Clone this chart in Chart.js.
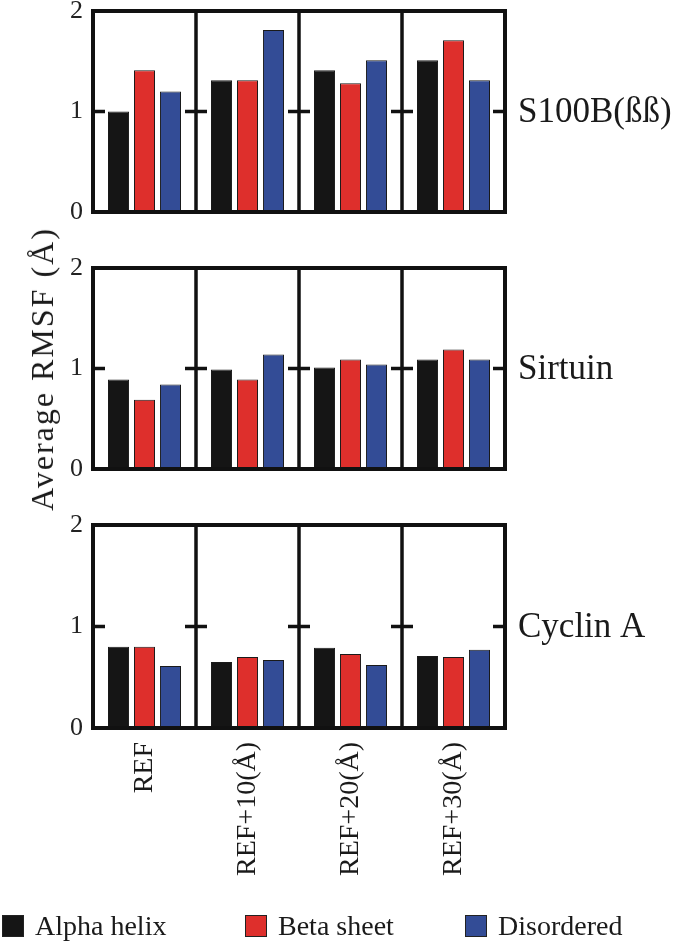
<!DOCTYPE html>
<html>
<head>
<meta charset="utf-8">
<script src="https://cdn.jsdelivr.net/npm/chart.js@4.4.1/dist/chart.umd.min.js"></script>
<style>
  html, body { margin:0; padding:0; background:#fff; }
  body { width:675px; height:943px; position:relative; overflow:hidden; font-family:"Liberation Serif","Times New Roman",serif; color:#1a1a1a; }
  canvas { position:absolute; left:0; }
  #ytitle { position:absolute; left:42px; top:369px; transform:translate(-50%,-50%) rotate(-90deg); white-space:nowrap; font-size:32px; line-height:1; letter-spacing:2px; }
  .lg { position:absolute; top:905px; height:42px; display:flex; align-items:center; font-size:28px; white-space:nowrap; }
  .lg span.sw { display:inline-block; width:20px; height:20px; border:1px solid #222; margin-right:11px; }
</style>
</head>
<body>
<canvas id="c0" width="675" height="240" style="top:0px"></canvas>
<canvas id="c1" width="675" height="240" style="top:257px"></canvas>
<canvas id="c2" width="675" height="392" style="top:514px"></canvas>
<div id="ytitle">Average RMSF (Å)</div>
<div id="legend"></div>
<script>
// ---- data ----
const categories = ["REF", "REF+10(Å)", "REF+20(Å)", "REF+30(Å)"];
const panelNames = ["S100B(ßß)", "Sirtuin", "Cyclin A"];
const seriesNames = ["Alpha helix", "Beta sheet", "Disordered"];
const seriesColors = ["#151515", "#de2f2c", "#334c96"];
const yTicks = [0, 1, 2];

// S100B(ßß)
const s100bAlpha = [1.00, 1.31, 1.41, 1.51];
const s100bBeta = [1.41, 1.31, 1.28, 1.71];
const s100bDisordered = [1.20, 1.81, 1.51, 1.31];
// Sirtuin
const sirtuinAlpha = [0.89, 0.99, 1.01, 1.09];
const sirtuinBeta = [0.69, 0.89, 1.09, 1.19];
const sirtuinDisordered = [0.84, 1.14, 1.04, 1.09];
// Cyclin A
const cyclinAlpha = [0.80, 0.65, 0.79, 0.71];
const cyclinBeta = [0.80, 0.70, 0.73, 0.70];
const cyclinDisordered = [0.61, 0.67, 0.62, 0.77];

const panelData = [
  [s100bAlpha, s100bBeta, s100bDisordered],
  [sirtuinAlpha, sirtuinBeta, sirtuinDisordered],
  [cyclinAlpha, cyclinBeta, cyclinDisordered]
];

// ---- frame / separators / inner ticks / right label ----
const framePlugin = {
  id: 'panelFrame',
  afterDatasetsDraw(chart, args, opts) {
    const { ctx, chartArea: { left, right, top, bottom }, scales: { x, y } } = chart;
    ctx.save();
    ctx.strokeStyle = '#111';
    ctx.lineCap = 'butt';
    const seps = [];
    for (let i = 1; i < categories.length; i++) {
      seps.push((x.getPixelForValue(i - 1) + x.getPixelForValue(i)) / 2);
    }
    ctx.lineWidth = 3.5;
    seps.forEach(sx => {
      ctx.beginPath(); ctx.moveTo(sx, top); ctx.lineTo(sx, bottom); ctx.stroke();
    });
    const yy = y.getPixelForValue(yTicks[1]);
    const tl = 12;
    ctx.beginPath();
    ctx.moveTo(left, yy); ctx.lineTo(left + tl, yy);
    ctx.moveTo(right - tl, yy); ctx.lineTo(right, yy);
    seps.forEach(sx => { ctx.moveTo(sx - tl + 1, yy); ctx.lineTo(sx + tl - 1, yy); });
    ctx.stroke();
    ctx.lineWidth = 4;
    ctx.strokeRect(left, top, right - left, bottom - top);
    ctx.fillStyle = '#1a1a1a';
    ctx.font = '35px "Liberation Serif", serif';
    ctx.textBaseline = 'middle';
    ctx.textAlign = 'left';
    ctx.fillText(opts.label, right + 13, yy + 1);
    ctx.restore();
  }
};

function makeChart(id, p, showX) {
  return new Chart(document.getElementById(id), {
    type: 'bar',
    data: {
      labels: categories,
      datasets: seriesNames.map((n, i) => ({
        label: n,
        data: panelData[p][i],
        backgroundColor: seriesColors[i],
        borderColor: '#1a1a1a',
        borderWidth: 1,
        categoryPercentage: 0.757,
        barPercentage: 0.81
      }))
    },
    options: {
      responsive: false,
      animation: false,
      events: [],
      layout: { padding: { top: 11, right: 170, bottom: showX ? 0 : 28, left: 0 } },
      plugins: {
        legend: { display: false },
        tooltip: { enabled: false },
        panelFrame: { label: panelNames[p] }
      },
      scales: {
        x: {
          display: showX,
          grid: { display: false, drawTicks: false },
          border: { display: false },
          ticks: {
            autoSkip: false, maxRotation: 90, minRotation: 90, padding: 14,
            color: '#1a1a1a', font: { family: '"Liberation Serif", serif', size: 28 }
          },
          afterFit: (s) => { if (showX) { s.height = 178; s.paddingLeft = 0; s.paddingRight = 0; } }
        },
        y: {
          min: yTicks[0], max: yTicks[yTicks.length - 1],
          afterBuildTicks: (s) => { s.ticks = yTicks.map(v => ({ value: v })); },
          grid: { display: false, drawTicks: false },
          border: { display: false },
          ticks: { padding: 10, color: '#222', font: { family: '"Liberation Serif", serif', size: 26 } },
          afterFit: (s) => { s.width = 93; s.paddingTop = 0; s.paddingBottom = 0; }
        }
      }
    },
    plugins: [framePlugin]
  });
}

makeChart('c0', 0, false);
makeChart('c1', 1, false);
makeChart('c2', 2, true);

// ---- legend ----
const legendX = [2, 245, 465];
const legendEl = document.getElementById('legend');
seriesNames.forEach((n, i) => {
  const d = document.createElement('div');
  d.className = 'lg';
  d.style.left = legendX[i] + 'px';
  d.innerHTML = '<span class="sw" style="background:' + seriesColors[i] + '"></span>' + n;
  legendEl.appendChild(d);
});
</script>
</body>
</html>
